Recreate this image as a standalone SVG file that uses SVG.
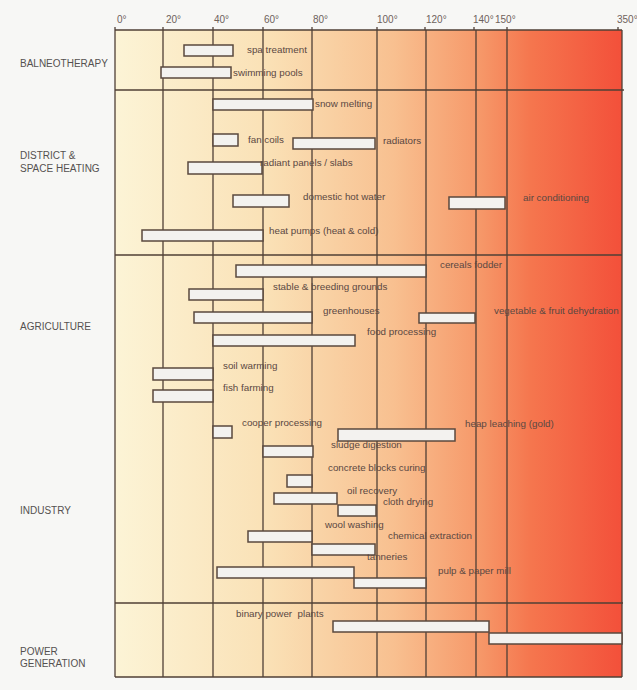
<svg xmlns="http://www.w3.org/2000/svg" width="637" height="690" viewBox="0 0 637 690">
<defs>
<linearGradient id="heat" gradientUnits="userSpaceOnUse" x1="115" y1="0" x2="622" y2="0">
<stop offset="0" stop-color="#fcf4d6"/>
<stop offset="0.3" stop-color="#fae1b6"/>
<stop offset="0.55" stop-color="#f8c090"/>
<stop offset="0.72" stop-color="#f69869"/>
<stop offset="0.82" stop-color="#f5764e"/>
<stop offset="1" stop-color="#f3503a"/>
</linearGradient>
<style>
.grid{stroke:#504036;stroke-width:1.3;fill:none}
.bar{fill:#f3f2ef;stroke:#5a483e;stroke-width:1.5}
.lbl{font-family:"Liberation Sans",Arial,sans-serif;font-size:9.8px;fill:#5a4842}
.cat{font-family:"Liberation Sans",Arial,sans-serif;font-size:10px;fill:#555150}
.tick{font-family:"Liberation Sans",Arial,sans-serif;font-size:10px;fill:#6e625c}
</style>
</defs>
<rect width="637" height="690" fill="#f7f7f5"/>
<rect x="115" y="30" width="507" height="647" fill="url(#heat)"/>

<g id="axis">
<g class="grid">
<path d="M115 30V677M163 30V677M213 30V677M263 30V677M312 30V677M377 30V677M426 30V677M476 30V677M507 30V677M622 30V677"/>
<path d="M115 27V30M163 27V30M213 27V30M263 27V30M312 27V30M377 27V30M425 27V30M474 27V30M507 27V30M618 27V30"/>
<path d="M115 30H622M115 90H624M115 255H622M115 603H623M115 677H622"/>
</g>
<text class="tick" x="117" y="23">0°</text>
<text class="tick" x="166" y="23">20°</text>
<text class="tick" x="214" y="23">40°</text>
<text class="tick" x="264" y="23">60°</text>
<text class="tick" x="313" y="23">80°</text>
<text class="tick" x="377" y="23">100°</text>
<text class="tick" x="426" y="23">120°</text>
<text class="tick" x="473" y="23">140°</text>
<text class="tick" x="495" y="23">150°</text>
<text class="tick" x="617" y="23">350°</text>
</g>

<g id="categories">
<text class="cat" x="20" y="67">BALNEOTHERAPY</text>
<text class="cat" x="20" y="159">DISTRICT &amp;</text>
<text class="cat" x="20" y="172">SPACE HEATING</text>
<text class="cat" x="20" y="330">AGRICULTURE</text>
<text class="cat" x="20" y="514">INDUSTRY</text>
<text class="cat" x="20" y="655">POWER</text>
<text class="cat" x="20" y="667">GENERATION</text>
</g>

<g id="spa-treatment"><rect class="bar" x="184" y="45" width="49" height="11"/><text class="lbl" x="247" y="53">spa treatment</text></g>
<g id="swimming-pools"><rect class="bar" x="161" y="67" width="70" height="11"/><text class="lbl" x="233" y="76">swimming pools</text></g>
<g id="snow-melting"><rect class="bar" x="213" y="99" width="100" height="11"/><text class="lbl" x="315" y="107">snow melting</text></g>
<g id="fan-coils"><rect class="bar" x="213" y="134" width="25" height="12"/><text class="lbl" x="248" y="143">fan coils</text></g>
<g id="radiators"><rect class="bar" x="293" y="138" width="82" height="11"/><text class="lbl" x="383" y="144">radiators</text></g>
<g id="radiant-panels"><rect class="bar" x="188" y="162" width="74" height="12"/><text class="lbl" x="260" y="166">radiant panels / slabs</text></g>
<g id="domestic-hot-water"><rect class="bar" x="233" y="195" width="56" height="12"/><text class="lbl" x="303" y="200">domestic hot water</text></g>
<g id="air-conditioning"><rect class="bar" x="449" y="197" width="56" height="12"/><text class="lbl" x="523" y="201">air conditioning</text></g>
<g id="heat-pumps"><rect class="bar" x="142" y="230" width="121" height="11"/><text class="lbl" x="269" y="234">heat pumps (heat &amp; cold)</text></g>

<g id="cereals-fodder"><rect class="bar" x="236" y="265" width="190" height="12"/><text class="lbl" x="440" y="268">cereals fodder</text></g>
<g id="stable-breeding"><rect class="bar" x="189" y="289" width="74" height="11"/><text class="lbl" x="273" y="290">stable &amp; breeding grounds</text></g>
<g id="greenhouses"><rect class="bar" x="194" y="312" width="118" height="11"/><text class="lbl" x="323" y="314">greenhouses</text></g>
<g id="dehydration"><rect class="bar" x="419" y="313" width="56" height="10"/><text class="lbl" x="494" y="314">vegetable &amp; fruit dehydration</text></g>
<g id="food-processing"><rect class="bar" x="213" y="335" width="142" height="11"/><text class="lbl" x="367" y="335">food processing</text></g>
<g id="soil-warming"><rect class="bar" x="153" y="368" width="60" height="12"/><text class="lbl" x="223" y="369">soil warming</text></g>
<g id="fish-farming"><rect class="bar" x="153" y="390" width="60" height="12"/><text class="lbl" x="223" y="391">fish farming</text></g>

<g id="cooper-processing"><rect class="bar" x="213" y="426" width="19" height="12"/><text class="lbl" x="242" y="426">cooper processing</text></g>
<g id="heap-leaching"><rect class="bar" x="338" y="429" width="117" height="12"/><text class="lbl" x="465" y="427">heap leaching (gold)</text></g>
<g id="sludge-digestion"><rect class="bar" x="263" y="446" width="50" height="11"/><text class="lbl" x="331" y="448">sludge digestion</text></g>
<g id="concrete-blocks"><rect class="bar" x="287" y="475" width="25" height="12"/><text class="lbl" x="328" y="471">concrete blocks curing</text></g>
<g id="oil-recovery"><rect class="bar" x="274" y="493" width="63" height="11"/><text class="lbl" x="347" y="494">oil recovery</text></g>
<g id="cloth-drying"><rect class="bar" x="338" y="505" width="38" height="11"/><text class="lbl" x="383" y="505">cloth drying</text></g>
<g id="wool-washing"><rect class="bar" x="248" y="531" width="64" height="11"/><text class="lbl" x="325" y="528">wool washing</text></g>
<g id="chemical-extraction"><rect class="bar" x="312" y="544" width="63" height="11"/><text class="lbl" x="388" y="539">chemical extraction</text></g>
<g id="tanneries"><text class="lbl" x="367" y="560">tanneries</text></g>
<g id="pulp-paper"><rect class="bar" x="217" y="567" width="137" height="11"/><rect class="bar" x="354" y="578" width="72" height="10"/><text class="lbl" x="438" y="574">pulp &amp; paper mill</text></g>

<g id="binary-power"><rect class="bar" x="333" y="621" width="156" height="11"/><rect class="bar" x="489" y="633" width="133" height="11"/><text class="lbl" x="236" y="617" xml:space="preserve">binary power  plants</text></g>
</svg>
